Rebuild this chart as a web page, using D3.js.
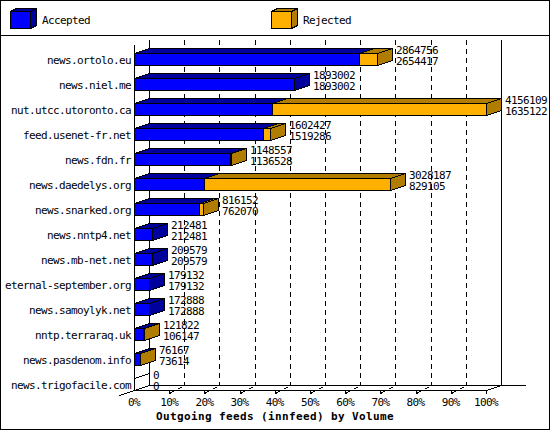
<!DOCTYPE html>
<html><head><meta charset="utf-8">
<script src="https://cdn.jsdelivr.net/npm/d3@7"></script>
<style>
body{margin:0;background:#fff}
svg{display:block}
text{font-family:"DejaVu Sans Mono",monospace;font-size:11px;letter-spacing:-0.62px;fill:#000}
.title{font-weight:bold;letter-spacing:0.38px}
</style>
</head><body>
<svg id="c" width="550" height="430"></svg>
<script>
const hosts = ["news.ortolo.eu","news.niel.me","nut.utcc.utoronto.ca","feed.usenet-fr.net","news.fdn.fr","news.daedelys.org","news.snarked.org","news.nntp4.net","news.mb-net.net","eternal-september.org","news.samoylyk.net","nntp.terraraq.uk","news.pasdenom.info","news.trigofacile.com"];
const offered = [2864756,1893002,4156109,1602427,1148557,3028187,816152,212481,209579,179132,172888,121822,76167,0];
const accepted = [2654417,1893002,1635122,1519286,1136528,829105,762070,212481,209579,179132,172888,106147,73614,0];
const pctTicks = [0,10,20,30,40,50,60,70,80,90,100];
const legendLabels = ["Accepted","Rejected"];
const titleText = "Outgoing feeds (innfeed) by Volume";

const COL = {blue:"#0000ff", blueDark:"#00009c", orange:"#ffb000", orangeDark:"#b07d00"};
const DX = 15, DY = 5;

const svg = d3.select("#c");
svg.append("rect").attr("x",0.5).attr("y",0.5).attr("width",549).attr("height",429)
  .attr("fill","#fff").attr("stroke","#000").attr("shape-rendering","crispEdges");
svg.append("line").attr("x1",0).attr("x2",550).attr("y1",35.5).attr("y2",35.5)
  .attr("stroke","#000").attr("shape-rendering","crispEdges");

const x = d3.scaleLinear().domain([0, d3.max(offered)]).range([134, 486]);
const xp = d3.scaleLinear().domain([0, 100]).range([134, 486]);
const y = d3.scaleBand().domain(hosts).range([40, 390]).padding(0);

const g = svg.append("g").attr("shape-rendering","crispEdges");

function poly(pts, fill){
  g.append("polygon").attr("points", pts.map(p=>p.join(",")).join(" "))
    .attr("fill", fill).attr("stroke","#000").attr("stroke-width",1);
}
function line(x1,y1,x2,y2,dash){
  const l = g.append("line").attr("x1",x1).attr("y1",y1).attr("x2",x2).attr("y2",y2)
    .attr("stroke","#000").attr("stroke-width",1);
  if (dash) l.attr("stroke-dasharray", dash);
  return l;
}

// back wall & grid
const floorBack = 385.5, floorFront = 390.5, wallTop = 40;
pctTicks.forEach(t => {
  const xb = Math.round(xp(t)) + DX + 0.5;
  if (t === 0 || t === 100) line(xb, wallTop, xb, floorBack);
  else line(xb, wallTop, xb, floorBack, "5,4");
});
// front left axis
line(134.5, 45, 134.5, floorFront);
// floor
line(149.5, floorBack, 526, floorBack);
line(134.5, floorFront, 486.5, floorFront);
line(119.5, 395.5, 149.5, floorBack);
line(486.5, floorFront, 501.5, floorBack);
pctTicks.forEach(t => {
  if (t === 0) return;
  const xf = Math.round(xp(t)) + 0.5;
  line(xf, floorFront, xf, 393.5);
  if (t !== 100) line(xf, 393.5, xf + DX, floorBack, "4.5,4.5");
});

// bars
function bar3d(x0, x1, yt, yb, front, dark, fill){
  const f = fill ? front : "none", d = fill ? dark : "none";
  poly([[x0,yt],[x1,yt],[x1,yb],[x0,yb]], f);
  poly([[x0,yt],[x0+DX,yt-DY],[x1+DX,yt-DY],[x1,yt]], d);
  poly([[x1,yt],[x1+DX,yt-DY],[x1+DX,yb-DY],[x1,yb]], d);
}
hosts.forEach((h, i) => {
  const yt = y(h) + 13.5, yb = y(h) + 25.5;
  const xa = Math.round(x(accepted[i])) + 0.5;
  const xo = Math.round(x(offered[i])) + 0.5;
  const x0 = Math.round(x(0)) + 0.5;
  if (offered[i] === 0) {
    bar3d(x0, x0, yt, yb, "none", "none", false);
  } else {
    bar3d(x0, xa, yt, yb, COL.blue, COL.blueDark, true);
    if (offered[i] > accepted[i]) bar3d(xa, xo, yt, yb, COL.orange, COL.orangeDark, true);
  }
  const tx = Math.round(x(offered[i])) + DX + 4;
  svg.append("text").attr("x", tx).attr("y", y(h) + 14).text(offered[i]);
  svg.append("text").attr("x", tx).attr("y", y(h) + 25).text(accepted[i]);
  svg.append("text").attr("x", 131).attr("y", y(h) + 23.5).attr("text-anchor","end").text(h);
});

// axis labels
pctTicks.forEach(t => {
  svg.append("text").attr("x", xp(t)).attr("y", 406).attr("text-anchor","middle").text(t + "%");
});
svg.append("text").attr("class","title").attr("x", 275).attr("y", 420)
  .attr("text-anchor","middle").text(titleText);

// legend
const lg = svg.append("g").attr("shape-rendering","crispEdges");
const legendCols = [[COL.blue, COL.blueDark],[COL.orange, COL.orangeDark]];
const legendX = [10, 271];
legendLabels.forEach((lab, i) => {
  const lx = legendX[i] + 0.5, ly0 = 11.5, ly1 = 28.5, w = 20, dx = 6, dy = 3;
  const P = (pts, fill) => lg.append("polygon").attr("points", pts.map(p=>p.join(",")).join(" "))
    .attr("fill", fill).attr("stroke","#000");
  P([[lx,ly0],[lx+w,ly0],[lx+w,ly1],[lx,ly1]], legendCols[i][0]);
  P([[lx,ly0],[lx+dx,ly0-dy],[lx+w+dx,ly0-dy],[lx+w,ly0]], legendCols[i][1]);
  P([[lx+w,ly0],[lx+w+dx,ly0-dy],[lx+w+dx,ly1-dy],[lx+w,ly1]], legendCols[i][1]);
  svg.append("text").attr("x", legendX[i] + 32).attr("y", 23.5).text(lab);
});
</script>
</body></html>
